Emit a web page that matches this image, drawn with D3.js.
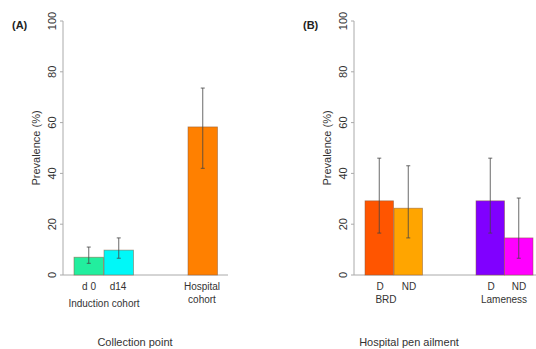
<!DOCTYPE html>
<html>
<head>
<meta charset="utf-8">
<script src="https://cdn.jsdelivr.net/npm/d3@7"></script>
<style>
body{margin:0;background:#fff;}
text{font-family:"Liberation Sans",Arial,sans-serif;fill:#222;}
</style>
</head>
<body>
<div id="chart"></div>
<script>
// panel A
var catsA = ["d 0", "d14", "Hospital"];
var valsA = [7, 9.8, 58.3];
var lowA = [4.6, 6.6, 42];
var highA = [11, 14.6, 73.6];
var colA = ["#22ee9e", "#00f8f8", "#ff8000"];

// panel B
var catsB = ["BRD D", "BRD ND", "Lam D", "Lam ND"];
var valsB = [29.2, 26.3, 29.2, 14.6];
var lowB = [16.5, 14.6, 16.5, 6.6];
var highB = [46, 43, 46, 30.3];
var colB = ["#ff5500", "#ffa500", "#8000ff", "#ff00ff"];

var yTicks = [0, 20, 40, 60, 80, 100];

var svg = d3.select("#chart").append("svg")
              .attr("width", 536)
              .attr("height", 349);

var y = d3.scaleLinear().domain([0, 100]).range([275, 21]);

function panel(ax, xEnd, label, lx, cats, vals, low, high, cols, bx, bw, ylabX, tickX) {
	var g = svg.append("g");
	// y axis
	g.append("line").attr("x1", ax).attr("x2", ax).attr("y1", y(0)).attr("y2", y(100))
		.attr("stroke", "#aaa").attr("stroke-width", 1);
	for (var i = 0; i < yTicks.length; i++) {
		g.append("line").attr("x1", ax - 3).attr("x2", ax).attr("y1", y(yTicks[i])).attr("y2", y(yTicks[i]))
			.attr("stroke", "#aaa");
		g.append("text").attr("transform", "translate(" + tickX + "," + y(yTicks[i]) + ") rotate(-90)")
			.attr("text-anchor", "middle").attr("font-size", 11).style("fill", "#333")
			.text(yTicks[i]);
	}
	g.append("line").attr("x1", ax).attr("x2", xEnd).attr("y1", y(0)).attr("y2", y(0))
		.attr("stroke", "#aaa");
	g.append("text").attr("transform", "translate(" + ylabX + "," + y(50) + ") rotate(-90)")
		.attr("text-anchor", "middle").attr("font-size", 11).style("fill", "#333")
		.text("Prevalence (%)");
	g.append("text").attr("x", lx).attr("y", 29).attr("font-size", 11).attr("font-weight", "bold")
		.text(label);

	for (var k = 0; k < cats.length; k++) {
		g.append("rect").attr("x", bx[k]).attr("y", y(vals[k]))
			.attr("width", bw).attr("height", y(0) - y(vals[k]))
			.attr("fill", cols[k]).attr("stroke", "#8a5a3a").attr("stroke-opacity", 0.6).attr("stroke-width", 0.8);
		var cx = bx[k] + bw / 2;
		g.append("line").attr("x1", cx).attr("x2", cx).attr("y1", y(high[k])).attr("y2", y(low[k]))
			.attr("stroke", "#444").attr("stroke-width", 0.8);
		g.append("line").attr("x1", cx - 2).attr("x2", cx + 2).attr("y1", y(high[k])).attr("y2", y(high[k]))
			.attr("stroke", "#444").attr("stroke-width", 0.8);
		g.append("line").attr("x1", cx - 2).attr("x2", cx + 2).attr("y1", y(low[k])).attr("y2", y(low[k]))
			.attr("stroke", "#444").attr("stroke-width", 0.8);
	}
	return g;
}

var gA = panel(63, 228, "(A)", 12, catsA, valsA, lowA, highA, colA, [74, 104, 188], 29.5, 40, 56);
var gB = panel(354, 536, "(B)", 303, catsB, valsB, lowB, highB, colB, [365, 394, 476, 504.5], 28.5, 331, 347);

function lab(g, x, yy, t) {
	g.append("text").attr("x", x).attr("y", yy).attr("text-anchor", "middle")
		.attr("font-size", 10).style("fill", "#333").text(t);
}
lab(gA, 89, 290, "d 0");
lab(gA, 118, 290, "d14");
lab(gA, 104, 307, "Induction cohort");
lab(gA, 202, 290, "Hospital");
lab(gA, 202, 303, "cohort");
lab(gB, 380, 290, "D");
lab(gB, 409, 290, "ND");
lab(gB, 386, 303, "BRD");
lab(gB, 491, 290, "D");
lab(gB, 519, 290, "ND");
lab(gB, 504, 303, "Lameness");

svg.append("text").attr("x", 135).attr("y", 346).attr("text-anchor", "middle")
	.attr("font-size", 11).style("fill", "#333").text("Collection point");
svg.append("text").attr("x", 409).attr("y", 346).attr("text-anchor", "middle")
	.attr("font-size", 11).style("fill", "#333").text("Hospital pen ailment");
</script>
</body>
</html>
